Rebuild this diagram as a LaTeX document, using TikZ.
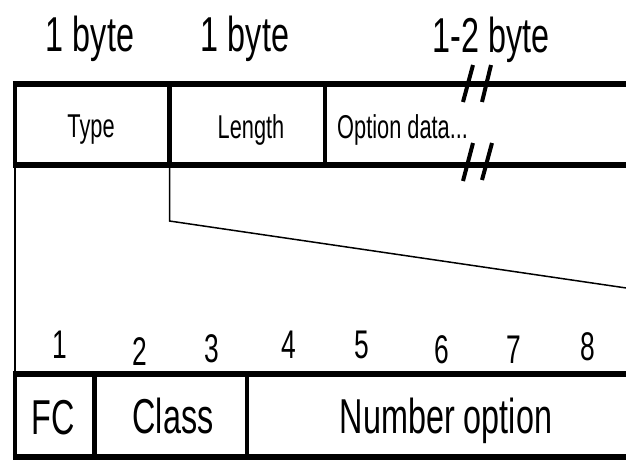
\documentclass[tikz,border=0pt]{standalone}
\usepackage{fontspec}
\setmainfont[FakeStretch=0.66]{Liberation Sans}
\usetikzlibrary{positioning}

\tikzset{
  bigtext/.style={font=\fontsize{49}{49}\selectfont, anchor=base, inner sep=0pt},
  fieldtext/.style={font=\fontsize{33}{33}\selectfont, anchor=base, inner sep=0pt},
  bittext/.style={font=\fontsize{40}{40}\selectfont, anchor=base, inner sep=0pt},
  frame/.style={line width=6pt},
  divider/.style={line width=4.5pt},
  link/.style={line width=1.5pt},
  cut/.style={line width=4pt}
}

\begin{document}
\begin{tikzpicture}[x=1pt,y=-1pt]
\useasboundingbox (0,0) rectangle (626,459);

% option header
\coordinate (hl) at (15,84);
\coordinate (hb) at (15,165);
\coordinate (d1t) at (169.5,84);
\coordinate (d1b) at (169.5,165);
\coordinate (d2t) at (325,84);
\coordinate (d2b) at (325,165);
\draw[frame] (12.8,84) -- (640,84);
\draw[frame] (12.8,165) -- (640,165);
\draw[divider] (hl) -- (hb);
\draw[divider] (d1t) -- (d1b);
\draw[divider] (d2t) -- (d2b);

\node[bigtext] (szType) at (90,51) {1 byte};
\node[bigtext] (szLen)  at (245,51) {1 byte};
\node[bigtext] (szData) at (491,52) {1-2 byte};

\node[fieldtext] (Type)   at (91,137) {Type};
\node[fieldtext] (Length) at (251,138) {Length};
\node[fieldtext, anchor=base west] (Data) at (337,138) {Option data...};

% break marks
\draw[cut] (463,102) -- (473,65);
\draw[cut] (482,102) -- (491,65);
\draw[cut] (463,181) -- (473,143);
\draw[cut] (482,180) -- (492,143);

% type byte
\coordinate (bl) at (15,374);
\coordinate (bb) at (15,456);
\coordinate (e1t) at (94.5,374);
\coordinate (e1b) at (94.5,456);
\coordinate (e2t) at (247,374);
\coordinate (e2b) at (247,456);
\draw[frame] (12.8,374) -- (640,374);
\draw[frame] (12.8,457) -- (640,457);
\draw[divider] (bl) -- (bb);
\draw[divider] (e1t) -- (e1b);
\draw[divider] (e2t) -- (e2b);

% zoom lines
\coordinate (kink) at (169.5,221);
\coordinate (far) at (640,290);
\draw[link] (hb) -- (bl);
\draw[link] (d1b) -- (kink) -- (far);

\foreach \n/\x/\y in {1/60/358, 2/140/365, 3/212/362, 4/289/358,
                      5/362/358, 6/442/363, 7/514/363, 8/588/360}
  \node[bittext] (bit\n) at (\x,\y) {\n};

\node[bigtext] (FC)     at (53,434) {FC};
\node[bigtext] (Class)  at (173,433) {Class};
\node[bigtext] (Number) at (446,433) {Number option};
\end{tikzpicture}
\end{document}
